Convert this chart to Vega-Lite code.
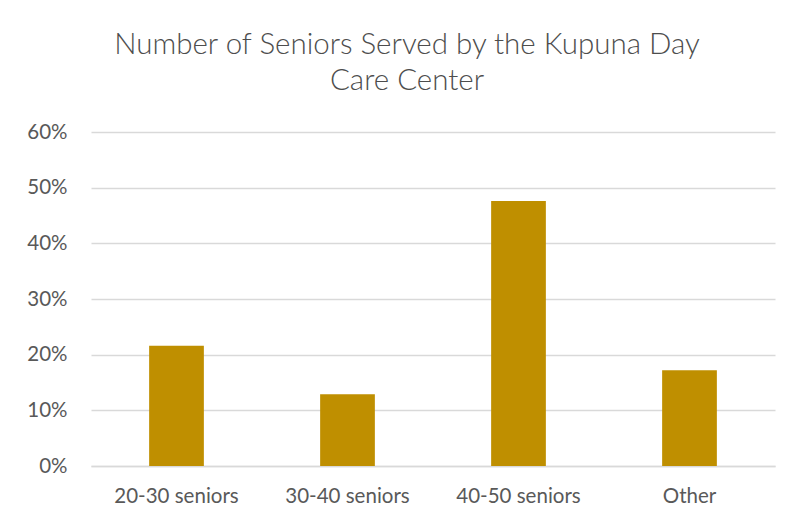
{
  "$schema": "https://vega.github.io/schema/vega-lite/v6.json",
  "width": 684,
  "height": 334,
  "autosize": "none",
  "padding": {"left": 91, "top": 132, "right": 17, "bottom": 58},
  "background": "white",
  "data": {"values": [
    {"category": "20-30 seniors", "share": 0.216},
    {"category": "30-40 seniors", "share": 0.129},
    {"category": "40-50 seniors", "share": 0.476},
    {"category": "Other", "share": 0.172}
  ]},
  "title": {
    "text": ["Number of Seniors Served by the Kupuna Day", "Care Center"],
    "font": "Lato",
    "fontSize": 29.5,
    "fontWeight": 300,
    "color": "#4d4d4d",
    "lineHeight": 36,
    "anchor": "middle",
    "dx": -26,
    "offset": 26
  },
  "mark": {"type": "bar", "color": "#bf8f00"},
  "encoding": {
    "x": {
      "field": "category", "type": "nominal", "sort": null,
      "scale": {"paddingInner": 0.68, "paddingOuter": 0.34},
      "axis": {
        "title": null, "labelAngle": 0, "ticks": false,
        "domainColor": "#d9d9d9", "domainWidth": 1.5,
        "labelFont": "Lato", "labelFontSize": 20.5, "labelColor": "#595959",
        "labelPadding": 20
      }
    },
    "y": {
      "field": "share", "type": "quantitative",
      "scale": {"domain": [0, 0.6]},
      "axis": {
        "title": null, "format": ".0%", "values": [0, 0.1, 0.2, 0.3, 0.4, 0.5, 0.6],
        "labelOverlap": false,
        "domain": false, "ticks": false,
        "gridColor": "#d9d9d9", "gridWidth": 1.5,
        "labelFont": "Lato", "labelFontSize": 20.5, "labelColor": "#595959",
        "labelPadding": 24
      }
    }
  },
  "config": {"view": {"stroke": null}}
}
